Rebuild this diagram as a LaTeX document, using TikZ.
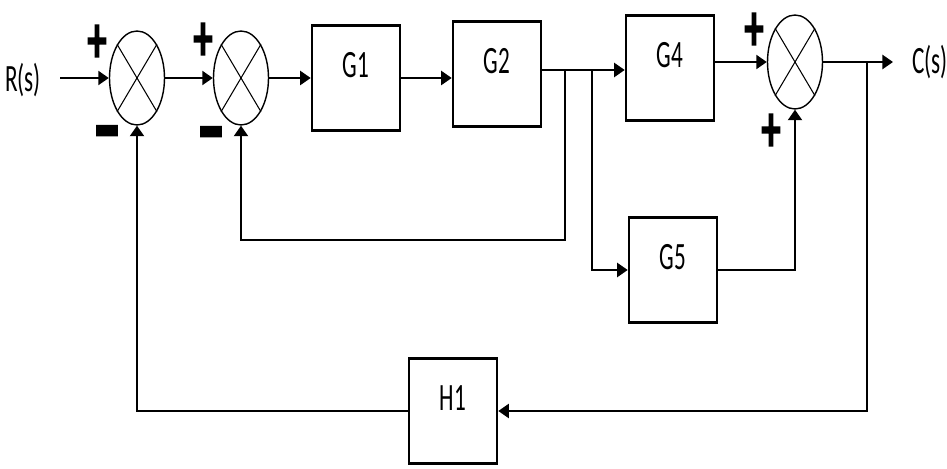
\documentclass[tikz,border=0pt]{standalone}
\usepackage{fontspec}
\setmainfont{Carlito}
\newfontfamily\blkfont[FakeStretch=0.6]{Carlito}
\newfontfamily\sgnfont[FakeStretch=0.5,FakeBold=2.5]{Carlito}
\newfontfamily\plusfont[FakeStretch=0.55,FakeBold=2.5]{DejaVu Sans}
\usetikzlibrary{arrows.meta,shapes.geometric}
\tikzset{
  blk/.style={draw,line width=1.2pt,minimum width=1.77cm,minimum height=2.1cm,inner sep=0pt,
    font=\blkfont\fontsize{22}{22}\selectfont,text height=0.45cm,text depth=0.45cm},
  sumj/.style={draw,ellipse,line width=0.8pt,minimum width=1.1cm,minimum height=1.88cm,inner sep=0pt},
  sgn/.style={font=\sgnfont\bfseries\fontsize{56}{56}\selectfont,inner sep=0pt},
  psgn/.style={font=\plusfont\bfseries\fontsize{29}{29}\selectfont,inner sep=0pt},
  io/.style={font=\blkfont\fontsize{22}{22}\selectfont,inner sep=0pt},
  sig/.style={-{Triangle[length=6pt,width=8pt]},line width=1.2pt},
  wire/.style={line width=1.2pt},
}

\begin{document}
\begin{tikzpicture}[x=0.02cm,y=-0.02cm]
  \useasboundingbox (0,0) rectangle (947,469);
  % blocks and summing points
  \node[io] (rs) at (23,80) {R(s)};
  \node[sumj] (s1) at (137,78) {};
  \node[sumj] (s2) at (241,78) {};
  \node[blk] (g1) at (356,78) {G1};
  \node[blk] (g2) at (497,74) {G2};
  \node[blk] (g4) at (670,68) {G4};
  \node[sumj] (s3) at (795,62) {};
  \node[blk] (g5) at (673,270) {G5};
  \node[blk] (h1) at (453,411) {H1};
  \node[io,anchor=west] (cs) at (912,62) {C(s)};
  \foreach \s in {s1,s2,s3}
    \draw[line width=0.6pt] (\s.north east) -- (\s.south west) (\s.north west) -- (\s.south east);
  % signs
  \node[psgn] (p1) at (97,41) {+};
  \node[sgn] (m1) at (107,144) {−};
  \node[psgn] (p2) at (203,39) {+};
  \node[sgn] (m2) at (211,145) {−};
  \node[psgn] (p3) at (754,29) {+};
  \node[psgn] (p4) at (771,130) {+};
  % branch points
  \coordinate (rin) at (60,78);
  \coordinate (b1) at (565,70);
  \coordinate (b2) at (592,70);
  \coordinate (b3) at (867,62);
  \coordinate (c1) at (565,240);
  \coordinate (out) at (893,62);
  % forward path
  \draw[sig] (rin) -- (s1);
  \draw[sig] (s1) -- (s2);
  \draw[sig] (s2) -- (g1);
  \draw[sig] (g1.east) -- (g1.east -| g2.west);
  \draw[wire] (g2.east |- b1) -- (b2);
  \draw[sig] (b2) -- (b2 -| g4.west);
  \draw[sig] (g4.east |- s3) -- (s3);
  \draw[sig] (s3) -- (out);
  \draw[sig] (b2) |- (g5);
  \draw[sig] (g5) -| (s3);
  % feedback
  \draw[sig] (b1) -- (c1) -| (s2);
  \draw[sig] (b3) |- (h1);
  \draw[sig] (h1) -| (s1);
\end{tikzpicture}
\end{document}
